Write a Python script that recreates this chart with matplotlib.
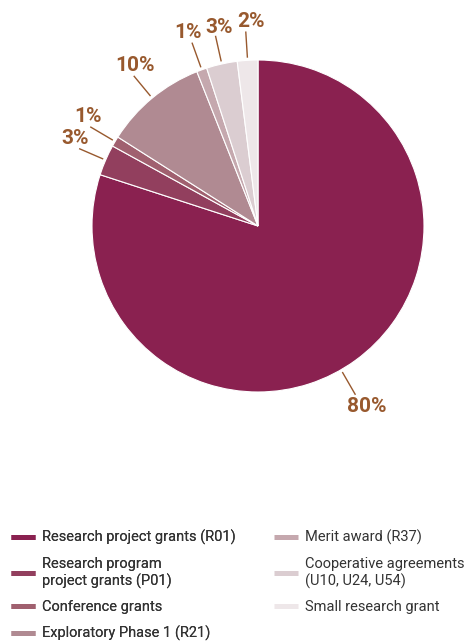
import numpy as np
import matplotlib
matplotlib.use("Agg")
import matplotlib.pyplot as plt
from matplotlib.lines import Line2D

plt.rcParams['font.family'] = ['Roboto', 'DejaVu Sans']

# data
categories = ["Research project grants (R01)",
              "Research program\nproject grants (P01)",
              "Conference grants",
              "Exploratory Phase 1 (R21)",
              "Merit award (R37)",
              "Cooperative agreements\n(U10, U24, U54)",
              "Small research grant"]
shares = [80, 3, 1, 10, 1, 3, 2]
colors = ["#8A2150", "#923F5E", "#A0606F", "#B08A92",
          "#C5A8AE", "#DBCDD1", "#EEE7E9"]
label_color = "#98592E"

# label placement tweaks (degrees off the wedge middle, radius)
line_shift = [-6, 0, 0, 0, 0, 0, 0]
label_shift = [-4.8, -2.3, -2.1, -2.1, 0, -1.5, -1.6]
label_r = [1.27, 1.22, 1.22, 1.22, 1.24, 1.22, 1.235]

fig = plt.figure(figsize=(4.76, 6.44), dpi=100)
cx, cy, r = 258, 226, 166
ax = fig.add_axes([(cx - r) / 476, (644 - cy - r) / 644, 2 * r / 476, 2 * r / 644])

wedges, _ = ax.pie(shares, colors=colors, startangle=90, counterclock=False,
                   wedgeprops=dict(edgecolor="white", linewidth=0.8))
ax.set_xlim(-1, 1)
ax.set_ylim(-1, 1)
ax.set_aspect("equal")
ax.axis("off")

for i, (w, v) in enumerate(zip(wedges, shares)):
    mid = (w.theta1 + w.theta2) / 2
    a = np.deg2rad(mid + line_shift[i])
    ax.plot([1.02 * np.cos(a), 1.17 * np.cos(a)], [1.02 * np.sin(a), 1.17 * np.sin(a)],
            color=label_color, lw=1.0, clip_on=False)
    b = np.deg2rad(mid + label_shift[i])
    ax.text(label_r[i] * np.cos(b), label_r[i] * np.sin(b), f"{v}%", ha="center", va="center",
            fontsize=15, fontweight="bold", color=label_color, clip_on=False)

def make_legend(idx, x):
    handles = [Line2D([], [], color=colors[i], lw=3.6, solid_capstyle="butt") for i in idx]
    labels = [categories[i] for i in idx]
    leg = fig.legend(handles, labels, loc="upper left", bbox_to_anchor=(x, 1 - 530 / 644),
                     frameon=False, fontsize=10.5, handlelength=1.65, handletextpad=0.5,
                     labelspacing=0.8, borderpad=0, borderaxespad=0)
    for t in leg.get_texts():
        t.set_color("#333333")
    return leg

leg1 = make_legend([0, 1, 2, 3], 11 / 476)
fig.add_artist(leg1)
make_legend([4, 5, 6], 274 / 476)

fig.savefig("out.png", dpi=100)
